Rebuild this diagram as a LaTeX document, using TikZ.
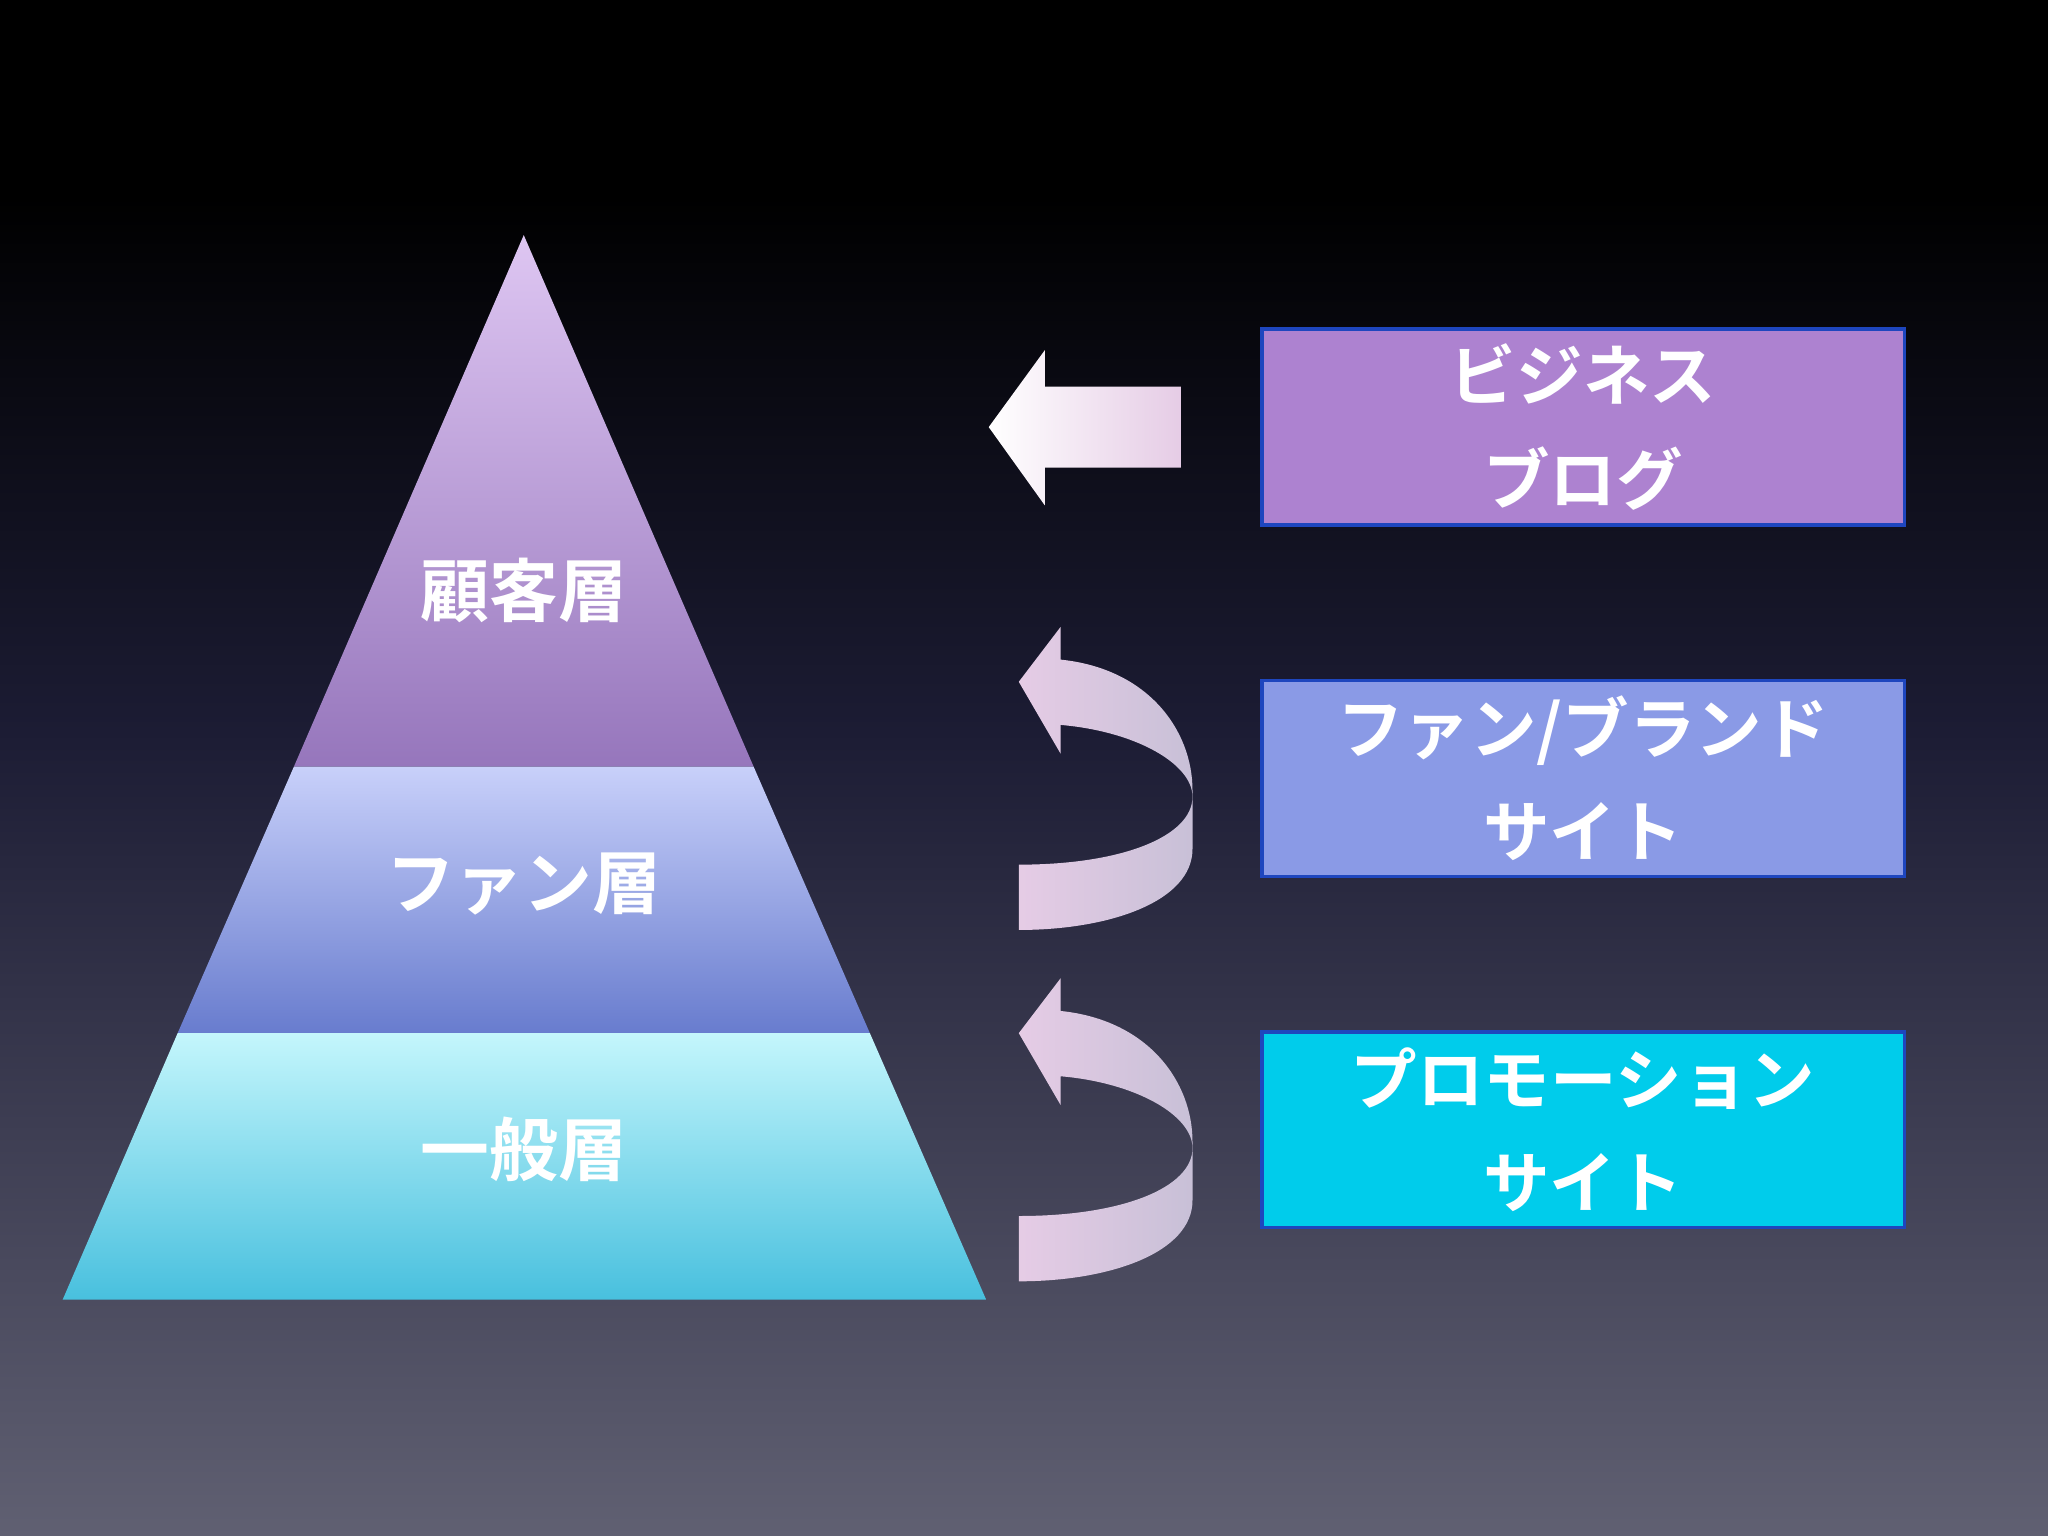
\documentclass[tikz,border=0pt]{standalone}
\usepackage{fontspec}
\setmainfont{Noto Sans CJK JP}[BoldFont={* Bold}]
\begin{document}
\begin{tikzpicture}[x=0.02cm,y=-0.02cm,
  lbl/.style={text=white,font=\bfseries\fontsize{30}{36}\selectfont,align=center},
  boxlbl/.style={text=white,font=\bfseries\fontsize{29}{45}\selectfont,align=center},
  sitebox/.style={draw={rgb,255:red,30;green,70;blue,190},line width=1.5pt},
  arr/.style={left color=white,right color=violet!20,draw=none}]
\fill[black] (0,0) rectangle (1568,150);
\shade[top color=black,bottom color={rgb,255:red,28;green,28;blue,52}] (0,150) rectangle (1568,560);
\shade[top color={rgb,255:red,28;green,28;blue,52},bottom color={rgb,255:red,96;green,96;blue,114}] (0,560) rectangle (1568,1176);
\useasboundingbox (0,0) rectangle (1568,1176);
% pyramid
\shade[top color={rgb,255:red,222;green,198;blue,242},bottom color={rgb,255:red,150;green,118;blue,188}] (401,180) -- (577,587) -- (225,587) -- cycle;
\shade[top color={rgb,255:red,200;green,208;blue,250},bottom color={rgb,255:red,104;green,124;blue,206}] (225,587) -- (577,587) -- (666,791) -- (136,791) -- cycle;
\shade[top color={rgb,255:red,196;green,246;blue,252},bottom color={rgb,255:red,72;green,192;blue,222}] (136,791) -- (666,791) -- (755,995) -- (48,995) -- cycle;
\node[lbl] (l1) at (401,452) {顧客層};
\node[lbl] (l2) at (401,677) {ファン層};
\node[lbl] (l3) at (401,880) {一般層};
% boxes
\node[sitebox,fill={rgb,255:red,173;green,130;blue,208},minimum width=9.84cm,minimum height=3cm,boxlbl] (b1) at (1212,327) {ビジネス\\ブログ};
\node[sitebox,fill={rgb,255:red,138;green,154;blue,230},minimum width=9.84cm,minimum height=3cm,boxlbl] (b2) at (1212,596) {ファン/ブランド\\サイト};
\node[sitebox,fill={rgb,255:red,0;green,204;blue,235},minimum width=9.84cm,minimum height=3cm,boxlbl] (b3) at (1212,865) {プロモーション\\サイト};
% straight arrow
\shade[arr] (757,327) -- (800,268) -- (800,296) -- (904,296) -- (904,358) -- (800,358) -- (800,387) -- cycle;
% curved arrows
\foreach \dy in {0,269}{
\begin{scope}[yshift=-\dy*0.02cm]
\shade[left color=white!80!violet,right color={rgb,255:red,200;green,192;blue,215},draw=none]
 (812,480) -- (812,505) .. controls (880,512) and (913,560) .. (913,605)
 -- (913,650) .. controls (913,690) and (850,712) .. (780,712) -- (780,662)
 .. controls (860,662) and (913,640) .. (913,610)
 .. controls (913,585) and (870,560) .. (812,555) -- (812,577) -- (780,522) -- cycle;
\end{scope}}
\end{tikzpicture}
\end{document}
